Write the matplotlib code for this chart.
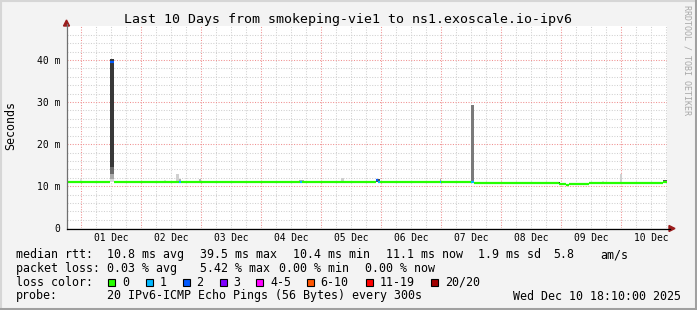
import numpy as np
import matplotlib.pyplot as plt
from matplotlib.patches import Rectangle, Polygon
from matplotlib.lines import Line2D

# time axis: hours relative to 01 Dec 00:00, window ends Wed Dec 10 18:10
t_start, t_end = -5.83, 234.17
day_labels = ["01 Dec", "02 Dec", "03 Dec", "04 Dec", "05 Dec",
              "06 Dec", "07 Dec", "08 Dec", "09 Dec", "10 Dec"]
ytick_vals = [0, 10, 20, 30, 40]
ytick_labels = ["0", "10 m", "20 m", "30 m", "40 m"]

# loss colour buckets
loss_labels = ["0", "1", "2", "3", "4-5", "6-10", "11-19", "20/20"]
loss_colors = ["#26ff00", "#00b8ff", "#0059ff", "#7e00ff",
               "#ff00ff", "#ff5500", "#ff0000", "#a10000"]

# median rtt (ms) as step segments, with loss bucket index
med_start = [-5.83, 11.7, 13.3, 39.3, 40.1, 87.7, 88.5, 117.9, 118.7, 119.6,
             143.5, 144.0, 156.0, 157.2, 191.0, 194.1, 195.3, 203.1, 232.7]
med_end = [11.7, 13.3, 39.3, 40.1, 87.7, 88.5, 117.9, 118.7, 119.6, 143.5,
           144.0, 156.0, 157.2, 191.0, 194.1, 195.3, 203.1, 232.7, 234.17]
med_ms = [10.9, 39.5, 10.9, 10.9, 10.9, 10.9, 10.9, 11.4, 11.0, 10.9,
          10.9, 10.9, 10.9, 10.85, 10.55, 10.3, 10.55, 10.85, 11.1]
med_loss = [0, 2, 0, 1, 0, 1, 0, 2, 1, 0, 1, 0, 1, 0, 0, 0, 0, 0, 0]

# smoke (spread of the 20 pings): start, end, low, high, shade
smoke_start = [11.7, 11.7, 11.7, 11.7, 156.0, 38.1, 39.3, 33.3, 47.3, -0.3,
               87.3, 104.1, 117.9, 143.5, 215.7, 208.5, 232.9, 191.0]
smoke_end = [13.3, 13.3, 13.3, 13.3, 157.2, 39.3, 40.1, 33.9, 47.9, 0.3,
             89.3, 105.3, 119.6, 144.0, 216.3, 209.1, 234.17, 191.4]
smoke_low = [10.9, 11.8, 13.0, 14.5, 10.9, 10.9, 10.9, 10.9, 10.9, 10.9,
             10.9, 10.9, 10.9, 10.9, 10.9, 10.9, 10.9, 10.3]
smoke_high = [11.8, 13.0, 14.5, 40.3, 29.3, 12.8, 11.7, 11.4, 11.8, 11.6,
              11.5, 12.0, 11.6, 11.6, 13.0, 11.3, 11.5, 10.9]
smoke_shade = ["#d8d8d8", "#aaaaaa", "#6a6a6a", "#383838", "#7a7a7a",
               "#d0d0d0", "#b0b0b0", "#e0e0e0", "#b8b8b8", "#e0e0e0",
               "#b0b0b0", "#d0d0d0", "#505050", "#b0b0b0", "#d0d0d0",
               "#e0e0e0", "#505050", "#303030"]

title = "Last 10 Days from smokeping-vie1 to ns1.exoscale.io-ipv6"
rtt_items = ["median rtt:", "10.8 ms avg", "39.5 ms max", "10.4 ms min",
             "11.1 ms now", "1.9 ms sd", "5.8", "am/s"]
rtt_x = [16, 107, 200, 293, 386, 478, 553, 600]
loss_items = ["packet loss:", "0.03 % avg", "5.42 % max", "0.00 % min", "0.00 % now"]
loss_x = [16, 107, 200, 279, 365]
probe_items = ["probe:", "20 IPv6-ICMP Echo Pings (56 Bytes) every 300s",
               "Wed Dec 10 18:10:00 2025"]
probe_x = [16, 107, 513]
box_x = [108, 145.5, 182.5, 219.5, 256, 306.5, 365.5, 431]

W, H = 697, 310
mono = "DejaVu Sans Mono"
plt.rcParams["font.family"] = mono

fig = plt.figure(figsize=(W / 100, H / 100), dpi=100, facecolor="#f3f3f3")


def fx(x):
    return x / W


def fy(y):
    return 1 - y / H


ax_l, ax_r, ax_t, ax_b = 66.5, 666.5, 26.3, 228.3
ax = fig.add_axes([fx(ax_l), fy(ax_b), (ax_r - ax_l) / W, (ax_b - ax_t) / H])
ax.set_facecolor("white")
for s in ax.spines.values():
    s.set_visible(False)
ax.set_xlim(t_start, t_end)
ax.set_ylim(0, 48)

# grid
minor_kw = dict(color="#d0d0d0", lw=0.75, ls=(0, (1, 1.5)), zorder=0)
major_kw = dict(color="#f09090", lw=0.75, ls=(0, (1, 1.5)), zorder=0)
for h in np.arange(-6, t_end, 6):
    if h > t_start:
        ax.axvline(h, **(major_kw if h % 24 == 0 else minor_kw))
for v in np.arange(2, 48, 2):
    ax.axhline(v, **(major_kw if v % 10 == 0 else minor_kw))

# smoke
ax.bar(smoke_start, np.array(smoke_high) - np.array(smoke_low), bottom=smoke_low,
       width=np.array(smoke_end) - np.array(smoke_start), align="edge",
       color=smoke_shade, linewidth=0, zorder=2)

# median line coloured by loss
ax.hlines(med_ms, med_start, med_end, colors=[loss_colors[i] for i in med_loss],
          lw=1.6, capstyle="butt", zorder=3)

noons = [24 * i + 12 for i in range(len(day_labels))]
ax.set_xticks(noons, day_labels, fontsize=6.9)
ax.set_yticks(ytick_vals, ytick_labels, fontsize=7.0)
ax.tick_params(axis="both", length=0, colors="#000000")
ax.tick_params(axis="x", pad=3.4)
ax.tick_params(axis="y", pad=4.6)

# axes lines and arrows
fig.add_artist(Line2D([fx(66.5), fx(66.5)], [fy(228.5), fy(24)], color="#707070", lw=0.9))
fig.add_artist(Line2D([fx(66.5), fx(670)], [fy(228.5), fy(228.5)], color="#000000", lw=0.9))
fig.add_artist(Polygon([(fx(63.5), fy(26)), (fx(69.5), fy(26)), (fx(66.5), fy(20))],
                       closed=True, color="#9b1c1c", transform=fig.transFigure))
fig.add_artist(Polygon([(fx(669), fy(225.5)), (fx(669), fy(231.5)), (fx(675), fy(228.5))],
                       closed=True, color="#9b1c1c", transform=fig.transFigure))

# texts
fig.text(fx(347.5), fy(19.5), title, ha="center", va="center", fontsize=9.55)
fig.text(fx(11), fy(126), "Seconds", rotation=90, ha="center", va="center", fontsize=8.4)
fig.text(fx(687), fy(60), "RRDTOOL / TOBI OETIKER", rotation=270, ha="center",
         va="center", fontsize=6, color="#a8a8a8")

for items, xs, y in [(rtt_items, rtt_x, 254.5), (loss_items, loss_x, 268.3),
                     (probe_items, probe_x, 296)]:
    for s, x in zip(items, xs):
        fig.text(fx(x), fy(y), s, ha="left", va="center", fontsize=8.4)

fig.text(fx(16), fy(282.3), "loss color:", ha="left", va="center", fontsize=8.4)
for lab, col, x in zip(loss_labels, loss_colors, box_x):
    fig.add_artist(Rectangle((fx(x), fy(286)), 7 / W, 7 / H, facecolor=col,
                             edgecolor="black", lw=0.8, transform=fig.transFigure))
    fig.text(fx(x + 14), fy(282.3), lab, ha="left", va="center", fontsize=8.4)

# outer frame
fig.add_artist(Line2D([0, 1], [fy(1), fy(1)], color="#d6d6d6", lw=1.5))
fig.add_artist(Line2D([fx(1), fx(1)], [0, 1], color="#d6d6d6", lw=1.5))
fig.add_artist(Line2D([0, 1], [fy(308.5), fy(308.5)], color="#a0a0a0", lw=2.2))
fig.add_artist(Line2D([fx(695.5), fx(695.5)], [0, 1], color="#a0a0a0", lw=2.2))

fig.savefig("out.png", dpi=100, facecolor=fig.get_facecolor())
